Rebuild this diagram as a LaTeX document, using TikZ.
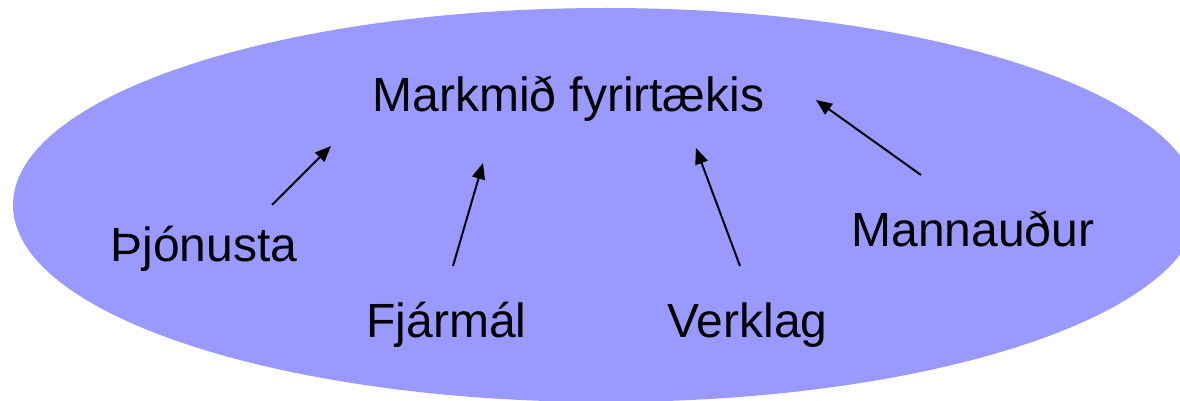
\documentclass[tikz,border=0pt]{standalone}
\usepackage{fontspec}
\setmainfont{Liberation Sans}
\usetikzlibrary{arrows.meta}
\definecolor{ovalblue}{RGB}{153,153,255}
\tikzset{
  lbl/.style={anchor=base west, inner sep=0pt, font=\fontsize{24pt}{28pt}\selectfont},
  arr/.style={line width=1pt, -{Triangle[length=8pt,width=6.5pt]}}
}
\begin{document}
\begin{tikzpicture}[x=0.5pt,y=-0.5pt]
\useasboundingbox (0,0) rectangle (1180,401);
\clip (0,0) rectangle (1180,401);
\fill[ovalblue] (606,205) ellipse [x radius=296.5pt, y radius=98.5pt];
\node[lbl] (goal) at (372,112) {Markmið fyrirtækis};
\node[lbl] (thj) at (110,262) {Þjónusta};
\node[lbl] (fja) at (366,337) {Fjármál};
\node[lbl] (ver) at (667,337) {Verklag};
\node[lbl] (man) at (851,247) {Mannauður};
\coordinate (t1) at (272,205); \coordinate (h1) at (331,146);
\coordinate (t2) at (453,266); \coordinate (h2) at (483,163);
\coordinate (t3) at (740,266); \coordinate (h3) at (696,148);
\coordinate (t4) at (921,175); \coordinate (h4) at (816,100);
\draw[arr] (t1) -- (h1);
\draw[arr] (t2) -- (h2);
\draw[arr] (t3) -- (h3);
\draw[arr] (t4) -- (h4);
\end{tikzpicture}
\end{document}
